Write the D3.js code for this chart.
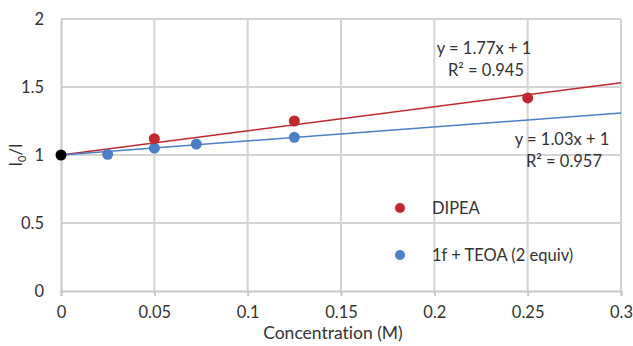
<!DOCTYPE html>
<html>
<head>
<meta charset="utf-8">
<script src="https://cdn.jsdelivr.net/npm/d3@7"></script>
<style>
  body { margin: 0; background: #fff; }
  text { font-family: Lato, "Open Sans", sans-serif; fill: #333; font-variant-ligatures: none; }
</style>
</head>
<body>
<div id="chart"></div>
<script>
const xTicks = [0, 0.05, 0.1, 0.15, 0.2, 0.25, 0.3]
const yTicks = [0, 0.5, 1, 1.5, 2]

const dipeaX = [0.05, 0.125, 0.25]
const dipeaY = [1.12, 1.25, 1.42]
const teoaX = [0.025, 0.05, 0.0725, 0.125]
const teoaY = [1.005, 1.05, 1.08, 1.13]
const originPoint = [0, 1]

const fits = [
  { slope: 1.77, icpt: 1, color: '#c0282f', eq: 'y = 1.77x + 1', r2: '0.945', at: [484, 54] },
  { slope: 1.03, icpt: 1, color: '#4a7fc6', eq: 'y = 1.03x + 1', r2: '0.957', at: [562, 145] }
]

const legendItems = [
  { name: 'DIPEA', color: '#c0282f' },
  { name: '1f + TEOA (2 equiv)', color: '#4a7fc6' }
]

const width = 633
const height = 346
const margin = { left: 61, right: 12, top: 19, bottom: 55 }
const fontSize = '16.5px'

const svg = d3.select('#chart').append('svg')
  .attr('width', width)
  .attr('height', height)

const x = d3.scaleLinear().domain([0, 0.3]).range([margin.left, width - margin.right])
const y = d3.scaleLinear().domain([0, 2]).range([height - margin.bottom, margin.top])

// grid
svg.append('g').selectAll('line.h')
  .data(yTicks.slice(1))
  .enter().append('line')
  .attr('x1', x(0)).attr('x2', x(0.3))
  .attr('y1', d => y(d)).attr('y2', d => y(d))
  .attr('stroke', '#d4d4d4').attr('stroke-width', 2)

svg.append('g').selectAll('line.v')
  .data(xTicks.slice(1))
  .enter().append('line')
  .attr('x1', d => x(d)).attr('x2', d => x(d))
  .attr('y1', y(0)).attr('y2', y(2))
  .attr('stroke', '#d4d4d4').attr('stroke-width', 2)

// axes
const xAxis = svg.append('g')
  .attr('transform', `translate(0,${y(0)})`)
  .call(d3.axisBottom(x).tickValues(xTicks).tickSize(5).tickPadding(10).tickFormat(d3.format('')))
xAxis.select('.domain').attr('stroke', '#c8c8c8').attr('stroke-width', 2)
xAxis.selectAll('.tick line').attr('stroke', '#c8c8c8').attr('stroke-width', 2)
xAxis.selectAll('text').style('font-size', fontSize).attr('fill', '#333')

const yAxis = svg.append('g')
  .attr('transform', `translate(${x(0)},0)`)
  .call(d3.axisLeft(y).tickValues(yTicks).tickSize(0).tickPadding(17).tickFormat(d3.format('')))
yAxis.select('.domain').attr('stroke', '#c8c8c8').attr('stroke-width', 2)
yAxis.selectAll('text').style('font-size', fontSize).attr('fill', '#333')

svg.append('text')
  .attr('x', 333).attr('y', 339)
  .attr('text-anchor', 'middle')
  .style('font-size', '17.5px')
  .text('Concentration (M)')

const yl = svg.append('text')
  .attr('transform', `translate(22,${y(1)}) rotate(-90)`)
  .attr('text-anchor', 'middle')
  .style('font-size', fontSize)
yl.append('tspan').text('I')
yl.append('tspan').attr('dy', 4).style('font-size', '11px').text('0')
yl.append('tspan').attr('dy', -4).text('/I')

// trend lines
fits.forEach(f => {
  svg.append('line')
    .attr('x1', x(0)).attr('y1', y(f.icpt))
    .attr('x2', x(0.3)).attr('y2', y(f.icpt + f.slope * 0.3))
    .attr('stroke', f.color).attr('stroke-width', 1.5)
  svg.append('text')
    .attr('x', f.at[0]).attr('y', f.at[1])
    .attr('text-anchor', 'middle')
    .style('font-size', fontSize)
    .text(f.eq)
  svg.append('text')
    .attr('x', f.at[0] + 2).attr('y', f.at[1] + 22)
    .attr('text-anchor', 'middle')
    .style('font-size', fontSize)
    .text('R² = ' + f.r2)
})

// points
svg.append('g').selectAll('circle')
  .data(teoaX.map((d, i) => [d, teoaY[i]]))
  .enter().append('circle')
  .attr('cx', d => x(d[0])).attr('cy', d => y(d[1]))
  .attr('r', 5.5).attr('fill', '#4a7fc6')

svg.append('g').selectAll('circle')
  .data(dipeaX.map((d, i) => [d, dipeaY[i]]))
  .enter().append('circle')
  .attr('cx', d => x(d[0])).attr('cy', d => y(d[1]))
  .attr('r', 5.5).attr('fill', '#c0282f')

svg.append('circle')
  .attr('cx', x(originPoint[0])).attr('cy', y(originPoint[1]))
  .attr('r', 5.5).attr('fill', '#000')

// legend
const lg = svg.append('g').selectAll('g')
  .data(legendItems)
  .enter().append('g')
  .attr('transform', (d, i) => `translate(400,${208 + i * 47})`)
lg.append('circle').attr('r', 5).attr('fill', d => d.color)
lg.append('text')
  .attr('x', 32).attr('y', 6)
  .style('font-size', fontSize)
  .text(d => d.name)
</script>
</body>
</html>
